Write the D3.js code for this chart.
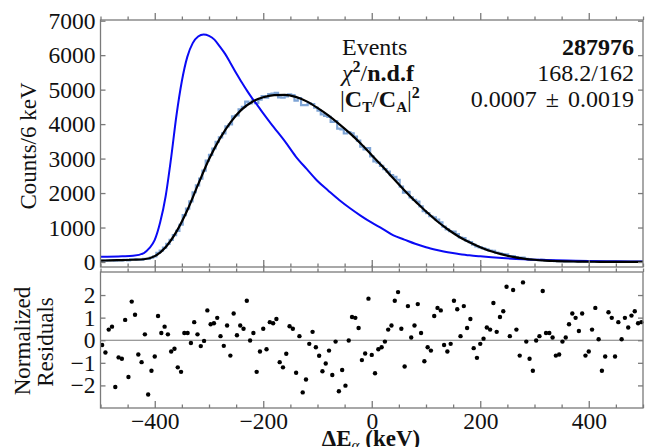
<!DOCTYPE html>
<html>
<head>
<meta charset="utf-8">
<script src="https://cdn.jsdelivr.net/npm/d3@7"></script>
<style>
  body { margin: 0; background: #fff; }
  text { font-family: "Liberation Serif", serif; fill: #111; }
</style>
</head>
<body>
<script>
var w = 652;
var h = 447;

// energy range of the histogram (keV) and its bin contents (165 bins)
var binLo = -500;
var binHi = 500;
var counts = [40,40,49,52,36,47,50,65,48,78,77,67,68,91,90,127,161,265,332,416,526,642,779,905,1081,1357,1550,1758,2024,2225,2419,2650,2941,3109,
  3293,3488,3615,3733,3932,3993,4226,4254,4427,4500,4652,4603,4685,4606,4707,4815,4770,4872,4886,4907,4778,4765,4802,4866,4840,4684,4757,4548,4548,4602,4581,4478,4391,
  4281,4237,4208,4064,4084,3870,3850,3727,3770,3732,3639,3522,3346,3264,3303,3064,2921,2880,2787,2697,2619,2522,2471,2386,2189,2011,2035,1877,1804,1753,1613,1477,1416,
  1327,1298,1227,1150,1027,947,892,885,809,711,694,617,578,506,455,427,395,369,330,320,271,254,232,225,170,174,137,110,128,90,74,59,62,
  56,62,43,39,34,25,22,22,20,19,18,17,13,14,7,7,8,11,6,3,3,7,6,3,4,3,5,3,4,4,3,3];

var residuals = [-0.21,-0.54,0.47,0.6,-2.07,-0.76,-0.82,0.9,-1.63,1.71,1.13,-0.63,-0.97,0.26,-2.4,-1.35,-0.72,1.07,0.32,0.6,0.26,-0.5,-0.38,-1.2,-1.4,0.32,0.32,-0.12,0.8,0.26,-0.26,-0.03,1.32,0.71,
  0.75,0.99,0.18,-0.25,0.65,-0.68,1.18,0.22,0.65,0.51,1.75,-0.01,0.32,-1.4,-0.5,0.51,-0.4,0.8,0.75,0.94,-0.97,-1.2,-0.6,0.62,0.51,-1.44,0.18,-2.31,-1.74,-0.16,0.37,-0.31,-0.69,
  -1.37,-1.03,-0.46,-1.54,-0.06,-2.26,-1.32,-2.01,-0.01,1.03,0.99,0.54,-0.88,-0.59,1.84,-0.65,-1.46,-0.4,-0.31,-0.06,0.47,0.65,1.75,2.13,0.51,-1.16,1.51,0.12,0.65,1.6,0.32,-0.93,-0.31,
  -0.46,1.07,1.43,1.32,-0.21,-0.5,-0.16,1.75,1.37,0.18,1.51,0.54,0.94,-0.35,-0.78,-0.16,0.07,0.56,0.47,1.65,0.37,1.03,1.28,2.37,0.18,2.22,0.47,-0.68,2.56,-0.06,-0.82,-1.35,-0.01,
  0.18,2.18,0.32,0.32,0.12,-0.68,-0.63,-0.06,0.12,0.71,1.18,0.99,0.41,1.18,-0.68,-0.5,0.47,1.43,0.04,-1.35,-0.72,1.24,0.99,-0.72,0.8,0.04,0.99,0.56,1.09,1.28,0.75,0.8];

// fit curve (black)
var fitEnergy = [-500,-480,-460,-440,-420,-400,-380,-360,-340,-320,-300,-280,-260,-240,-220,-200,-180,-160,-140,-120,-100,-80,-60,-40,-20,0,20,40,60,80,100,120,140,160,180,200,220,240,260,280,300,320,340,360,380,400,420,440,460,480,500];
var fitCounts = [40,48,56,65,80,170,430,880,1500,2250,2980,3580,4060,4420,4650,4780,4840,4850,4790,4660,4470,4250,4000,3730,3430,3100,2770,2420,2080,1760,1470,1190,950,740,570,430,310,220,150,100,65,42,28,18,12,8,6,4,3,2,2];

// comparison curve (blue)
var blueEnergy = [-500,-460,-440,-420,-410,-400,-390,-380,-370,-360,-350,-340,-330,-320,-310,-300,-290,-280,-270,-260,-250,-240,-230,-220,-210,-200,-190,-180,-160,-140,-120,-100,-80,-60,-40,-20,0,20,40,60,80,100,120,140,160,180,200,240,280,320,360,400,450,500];
var blueCounts = [150,165,180,260,400,640,1150,1900,3000,4250,5250,5950,6350,6540,6600,6560,6450,6250,6030,5760,5480,5220,4970,4740,4530,4310,4100,3900,3500,3060,2700,2350,2070,1800,1560,1340,1140,960,770,650,530,430,350,280,235,195,165,115,80,60,45,30,20,14];

var xMajor = [-400,-200,0,200,400];
var xMinor = [-500,-450,-350,-300,-250,-150,-100,-50,50,100,150,250,300,350,450,500];
var countTicks = [0,1000,2000,3000,4000,5000,6000,7000];
var residualTicks = [-2,-1,0,1,2];

var statValues = ["287976", "168.2/162", "0.0007 \u00b1 0.0019"];

var frameColor = "#7a7a7a";
var left = 100.5, right = 643;
var topY0 = 20, topY1 = 267;
var resY0 = 272, resY1 = 408;
var tickFont = 23.5;

var svg = d3.select("body").append("svg")
  .attr("width", w).attr("height", h);

var x = d3.scaleLinear().domain([binLo, binHi]).range([left, right]);
var yTop = d3.scaleLinear().domain([-145, 7020]).range([topY1, topY0]);
var yRes = d3.scaleLinear().domain([-3, 3.02]).range([resY1, resY0]);

svg.append("clipPath").attr("id", "clipTop")
  .append("rect").attr("x", left).attr("y", topY0)
  .attr("width", right - left).attr("height", topY1 - topY0);

// ---------- top panel ----------
var bw = (binHi - binLo) / counts.length;
var histPts = [];
counts.forEach(function(c, i) {
  histPts.push([binLo + i * bw, c]);
  histPts.push([binLo + (i + 1) * bw, c]);
});

var gTop = svg.append("g").attr("clip-path", "url(#clipTop)");

gTop.append("path")
  .attr("d", d3.line().x(function(d){ return x(d[0]); }).y(function(d){ return yTop(d[1]); })(histPts))
  .attr("fill", "none").attr("stroke", "#7fa5d6").attr("stroke-width", 2.2);

gTop.append("path")
  .attr("d", d3.line().curve(d3.curveMonotoneX)
      .x(function(d, i){ return x(blueEnergy[i]); })
      .y(function(d){ return yTop(d); })(blueCounts))
  .attr("fill", "none").attr("stroke", "#0a0af5").attr("stroke-width", 2);

gTop.append("path")
  .attr("d", d3.line().curve(d3.curveMonotoneX)
      .x(function(d, i){ return x(fitEnergy[i]); })
      .y(function(d){ return yTop(d); })(fitCounts))
  .attr("fill", "none").attr("stroke", "#000").attr("stroke-width", 2.2);

// ---------- residual panel ----------
svg.append("line")
  .attr("x1", left).attr("x2", right)
  .attr("y1", yRes(0)).attr("y2", yRes(0))
  .attr("stroke", frameColor).attr("stroke-width", 1.2);

svg.append("g").selectAll("circle")
  .data(residuals).enter().append("circle")
  .attr("cx", function(d, i){ return x(binLo + (i + 0.5) * bw); })
  .attr("cy", function(d){ return yRes(d); })
  .attr("r", 2.2)
  .attr("fill", "#000");

// ---------- frames and ticks ----------
function styleAxis(g) {
  g.select(".domain").remove();
  g.selectAll(".tick line").attr("stroke", frameColor).attr("stroke-width", 1.3);
  g.selectAll(".tick text").attr("font-size", tickFont).attr("font-family", "Liberation Serif").attr("fill", "#111");
}

function xTicksOn(y, dir, labels) {
  var ax = dir > 0 ? d3.axisBottom(x) : d3.axisTop(x);
  svg.append("g").attr("transform", "translate(0," + y + ")")
    .call(ax.tickValues(xMinor).tickSize(-3.5 * dir).tickFormat(""))
    .call(styleAxis);
  var g = svg.append("g").attr("transform", "translate(0," + y + ")")
    .call(ax.tickValues(xMajor).tickSize(-7 * dir).tickPadding(4)
      .tickFormat(labels ? d3.format("d") : ""));
  styleAxis(g);
}

xTicksOn(topY1, 1, false);
xTicksOn(topY0, -1, false);
xTicksOn(resY1, 1, true);
xTicksOn(resY0, -1, false);

svg.append("g").attr("transform", "translate(" + left + ",0)")
  .call(d3.axisLeft(yTop).tickValues(countTicks).tickSize(-5).tickPadding(5).tickFormat(d3.format("d")))
  .call(styleAxis);
svg.append("g").attr("transform", "translate(" + right + ",0)")
  .call(d3.axisRight(yTop).tickValues(countTicks).tickSize(-5).tickFormat(""))
  .call(styleAxis);
svg.append("g").attr("transform", "translate(" + left + ",0)")
  .call(d3.axisLeft(yRes).tickValues(residualTicks).tickSize(-5).tickPadding(5).tickFormat(d3.format("d")))
  .call(styleAxis);
svg.append("g").attr("transform", "translate(" + right + ",0)")
  .call(d3.axisRight(yRes).tickValues(residualTicks).tickSize(-5).tickFormat(""))
  .call(styleAxis);

svg.append("rect").attr("x", left).attr("y", topY0)
  .attr("width", right - left).attr("height", topY1 - topY0)
  .attr("fill", "none").attr("stroke", frameColor).attr("stroke-width", 1.3);
svg.append("rect").attr("x", left).attr("y", resY0)
  .attr("width", right - left).attr("height", resY1 - resY0)
  .attr("fill", "none").attr("stroke", frameColor).attr("stroke-width", 1.3);

// ---------- stats box ----------
var statX = 342, valX = 634, rowY = [55, 81, 107];
var fs = 24;

svg.append("text").attr("x", statX).attr("y", rowY[0]).attr("font-size", fs).text("Events");

var t1 = svg.append("text").attr("x", statX).attr("y", rowY[1]).attr("font-size", fs);
t1.append("tspan").attr("font-style", "italic").text("\u03c7");
t1.append("tspan").attr("font-weight", "bold").attr("font-size", 16).attr("dy", -9).text("2");
t1.append("tspan").attr("dy", 9).text("/");
t1.append("tspan").attr("font-weight", "bold").text("n.d.f");

var t2 = svg.append("text").attr("x", statX - 2).attr("y", rowY[2]).attr("font-size", fs);
t2.append("tspan").text("|");
t2.append("tspan").attr("font-weight", "bold").text("C");
t2.append("tspan").attr("font-weight", "bold").attr("font-size", 15).attr("dy", 5).text("T");
t2.append("tspan").attr("dy", -5).text("/");
t2.append("tspan").attr("font-weight", "bold").text("C");
t2.append("tspan").attr("font-weight", "bold").attr("font-size", 15).attr("dy", 5).text("A");
t2.append("tspan").attr("dy", -5).text("|");
t2.append("tspan").attr("font-weight", "bold").attr("font-size", 16).attr("dy", -9).text("2");

statValues.forEach(function(s, i) {
  svg.append("text").attr("x", valX).attr("y", rowY[i])
    .attr("text-anchor", "end").attr("font-size", fs)
    .attr("font-weight", i === 0 ? "bold" : "normal")
    .attr("word-spacing", i === 2 ? 3 : 0)
    .text(s);
});

// ---------- axis titles ----------
svg.append("text")
  .attr("transform", "translate(36,146) rotate(-90)")
  .attr("text-anchor", "middle").attr("font-size", 23)
  .text("Counts/6 keV");

svg.append("text")
  .attr("transform", "translate(30,341) rotate(-90)")
  .attr("text-anchor", "middle").attr("font-size", 23)
  .text("Normalized");
svg.append("text")
  .attr("transform", "translate(53,342) rotate(-90)")
  .attr("text-anchor", "middle").attr("font-size", 23)
  .text("Residuals");

var xt = svg.append("text").attr("x", 371).attr("y", 446)
  .attr("text-anchor", "middle").attr("font-size", 23);
xt.append("tspan").attr("font-weight", "bold").text("\u0394E");
xt.append("tspan").attr("font-style", "italic").attr("font-size", 15).attr("dy", 4).text("\u03b1");
xt.append("tspan").attr("font-weight", "bold").attr("dy", -4).text(" (keV)");
</script>
</body>
</html>
